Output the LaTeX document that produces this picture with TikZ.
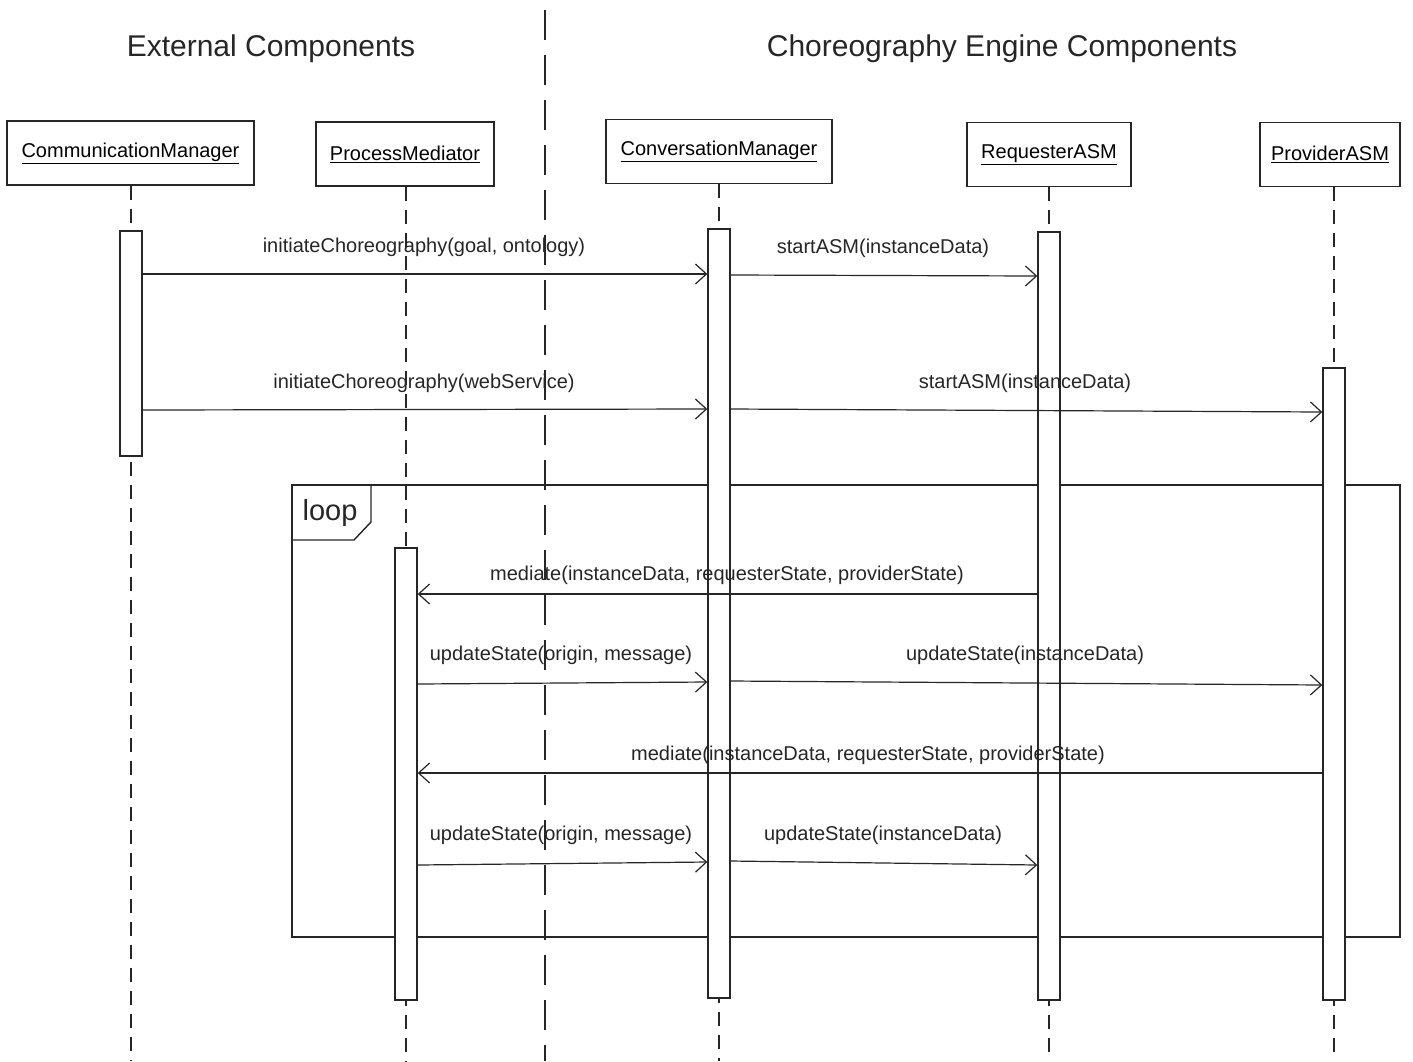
\documentclass[tikz,border=0pt]{standalone}
\usepackage{fontspec}
\setmainfont{Liberation Sans}
\usetikzlibrary{arrows.meta}
\begin{document}
\begin{tikzpicture}[x=1pt,y=-1pt,
  ln/.style={draw=black!85, line width=1.4pt},
  head/.style={draw=black!85, line width=1.4pt, fill=white, minimum height=64pt, inner sep=0pt, font=\fontsize{20}{24}\selectfont},
  bar/.style={draw=black!85, line width=1.4pt, fill=white, minimum width=22pt, inner sep=0pt},
  life/.style={draw=black!85, line width=1.4pt, dash pattern=on 14pt off 9pt},
  sep/.style={draw=black!85, line width=1.6pt, dash pattern=on 30pt off 15pt},
  msg/.style={draw=black!85, line width=1.2pt, -{Straight Barb[length=11pt,width=20pt,line width=1.2pt]}},
  lbl/.style={font=\fontsize{20}{24}\selectfont, inner sep=0pt, text=black!85},
  ttl/.style={font=\fontsize{30}{36}\selectfont, inner sep=0pt, text=black!85}]
\useasboundingbox (0,0) rectangle (1413,1061);

% titles
\node[ttl] (t1) at (271,49) {External Components};
\node[ttl] (t2) at (1002,49) {Choreography Engine Components};
\coordinate (sepTop) at (545,10);
\coordinate (sepBot) at (545,1061);
\draw[sep] (sepTop) -- (sepBot);

% heads
\node[head, minimum width=247pt] (cm) at (130.5,153) {\underline{CommunicationManager}};
\node[head, minimum width=178pt] (pm) at (405,154) {\underline{ProcessMediator}};
\node[head, minimum width=226pt] (cv) at (719,151.5) {\underline{ConversationManager}};
\node[head, minimum width=164pt] (rq) at (1049,154.5) {\underline{RequesterASM}};
\node[head, minimum width=140pt] (pv) at (1330,154.5) {\underline{ProviderASM}};

% lifelines
\coordinate (cmL) at (131,1061);
\coordinate (pmL) at (406,1061);
\coordinate (cvL) at (719,1061);
\coordinate (rqL) at (1049,1061);
\coordinate (pvL) at (1334,1061);
\draw[life] (cmL |- cm.south) -- (cmL);
\draw[life] (pmL |- pm.south) -- (pmL);
\draw[life] (cvL |- cv.south) -- (cvL);
\draw[life] (rqL |- rq.south) -- (rqL);
\draw[life] (pvL |- pv.south) -- (pvL);

% loop frame
\draw[ln] (292,485) rectangle (1400,937);
\draw[ln] (371,485) -- (371,522) -- (354,540) -- (292,540);
\node[font=\fontsize{29}{34}\selectfont, inner sep=0pt, text=black!85] (loop) at (330,513) {loop};

% activation bars
\node[bar, minimum height=225pt] (cmA) at (131,343.5) {};
\node[bar, minimum height=452pt] (pmA) at (406,774) {};
\node[bar, minimum height=769pt] (cvA) at (719,613.5) {};
\node[bar, minimum height=768pt] (rqA) at (1049,616) {};
\node[bar, minimum height=632pt] (pvA) at (1334,684) {};

% messages
\draw[msg] (cmA.east |- 0,274) -- (cvA.west |- 0,274);
\node[lbl] (m1) at (424,247) {initiateChoreography(goal, ontology)};
\draw[msg] (cvA.east |- 0,275) -- (rqA.west |- 0,276);
\node[lbl] (m2) at (883,248) {startASM(instanceData)};

\draw[msg] (cmA.east |- 0,410) -- (cvA.west |- 0,409);
\node[lbl] (m3) at (424,383) {initiateChoreography(webService)};
\draw[msg] (cvA.east |- 0,409) -- (pvA.west |- 0,412);
\node[lbl] (m4) at (1025,383) {startASM(instanceData)};

\draw[msg] (rqA.west |- 0,594) -- (pmA.east |- 0,594);
\node[lbl] (m5) at (727,575) {mediate(instanceData, requesterState, providerState)};

\draw[msg] (pmA.east |- 0,684) -- (cvA.west |- 0,682);
\node[lbl] (m6) at (561,655) {updateState(origin, message)};
\draw[msg] (cvA.east |- 0,681) -- (pvA.west |- 0,685);
\node[lbl] (m7) at (1025,655) {updateState(instanceData)};

\draw[msg] (pvA.west |- 0,773) -- (pmA.east |- 0,773);
\node[lbl] (m8) at (868,755) {mediate(instanceData, requesterState, providerState)};

\draw[msg] (pmA.east |- 0,865) -- (cvA.west |- 0,862);
\node[lbl] (m9) at (561,835) {updateState(origin, message)};
\draw[msg] (cvA.east |- 0,861) -- (rqA.west |- 0,865);
\node[lbl] (m10) at (883,835) {updateState(instanceData)};
\end{tikzpicture}
\end{document}
